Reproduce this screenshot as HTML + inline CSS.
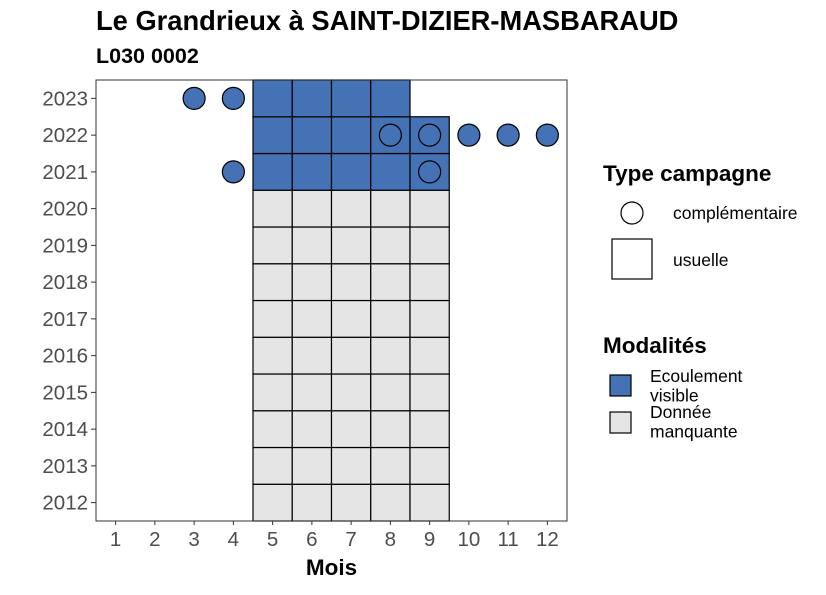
<!DOCTYPE html>
<html><head><meta charset="utf-8"><style>
body{margin:0;background:#fff;}
svg text{font-family:"Liberation Sans",Arial,sans-serif;}
</style></head><body>
<svg id="chart" width="826" height="590" viewBox="0 0 826 590" xmlns="http://www.w3.org/2000/svg">
<text x="96" y="30" font-size="27.3" font-weight="bold" fill="#000">Le Grandrieux à SAINT-DIZIER-MASBARAUD</text>
<text x="96" y="63" font-size="21.5" font-weight="bold" fill="#000">L030 0002</text>
<g id="plot"></g>
<g id="legend">
<text x="603" y="181" font-size="22.5" font-weight="bold">Type campagne</text>
<circle cx="632" cy="213" r="11" fill="#fff" stroke="#000" stroke-width="1.2"/>
<text x="673" y="219" font-size="17.5">complémentaire</text>
<rect x="612" y="239" width="40" height="40" fill="#fff" stroke="#000" stroke-width="1.2"/>
<text x="673" y="266" font-size="17.5">usuelle</text>
<text x="603" y="353" font-size="22.5" font-weight="bold">Modalités</text>
<rect x="610" y="375" width="21" height="21" fill="#4472b4" stroke="#000" stroke-width="1.2"/>
<text x="650" y="382" font-size="17.5"><tspan x="650">Ecoulement</tspan><tspan x="650" dy="19.5">visible</tspan></text>
<rect x="610" y="412" width="21" height="21" fill="#e5e5e5" stroke="#000" stroke-width="1.2"/>
<text x="650" y="418" font-size="17.5"><tspan x="650">Donnée</tspan><tspan x="650" dy="19.5">manquante</tspan></text>
</g>
</svg>
<script>
const months=[1,2,3,4,5,6,7,8,9,10,11,12];
const years=[2012,2013,2014,2015,2016,2017,2018,2019,2020,2021,2022,2023];
const greyYears=[2012,2013,2014,2015,2016,2017,2018,2019,2020];
const greyMonths=[5,6,7,8,9];
const blueTiles=[[2021,5],[2021,6],[2021,7],[2021,8],[2021,9],[2022,5],[2022,6],[2022,7],[2022,8],[2022,9],[2023,5],[2023,6],[2023,7],[2023,8]];
const circles=[[2023,3],[2023,4],[2022,8],[2022,9],[2022,10],[2022,11],[2022,12],[2021,4],[2021,9]];

const NS="http://www.w3.org/2000/svg";
const L=96,R=567,T=80,B=521;
const xs=m=>L+(m-0.5)/12*(R-L);
const ys=y=>B-(y-2011.5)/12*(B-T);
const dx=(R-L)/12, dy=(B-T)/12;
const g=document.getElementById('plot');
function mk(tag,attrs){const e=document.createElementNS(NS,tag);for(const k in attrs)e.setAttribute(k,attrs[k]);g.appendChild(e);return e;}
function tile(y,m,fill){
 const r=mk('rect',{x:xs(m)-dx/2,y:ys(y)-dy/2,width:dx,height:dy,fill:fill,stroke:'#000','stroke-width':1.2});
 
 
}
greyYears.forEach(y=>greyMonths.forEach(m=>tile(y,m,'#e5e5e5')));
blueTiles.forEach(([y,m])=>tile(y,m,'#4472b4'));
circles.forEach(([y,m])=>{
 const c=mk('circle',{cx:xs(m),cy:ys(y),r:11,fill:'#4472b4',stroke:'#000','stroke-width':1.2});
 
 
});
const frame=mk('rect',{x:L,y:T,width:R-L,height:B-T,fill:'none',stroke:'#333','stroke-width':1});


months.forEach(m=>{
 mk('line',{x1:xs(m),x2:xs(m),y1:B,y2:B+4,stroke:'#333'});
 const t=mk('text',{x:xs(m),y:B+25,'font-size':20.5,fill:'#4d4d4d','text-anchor':'middle'});
 t.textContent=m;
 
 
});
years.forEach(y=>{
 mk('line',{x1:L-5,x2:L,y1:ys(y),y2:ys(y),stroke:'#333'});
 const t=mk('text',{x:L-8,y:ys(y)+7,'font-size':20.5,fill:'#4d4d4d','text-anchor':'end'});
 t.textContent=y;
 
 
});
const xt=mk('text',{x:(L+R)/2,y:575,'font-size':22.5,'font-weight':'bold','text-anchor':'middle'});
xt.textContent='Mois';


</script>
</body></html>
